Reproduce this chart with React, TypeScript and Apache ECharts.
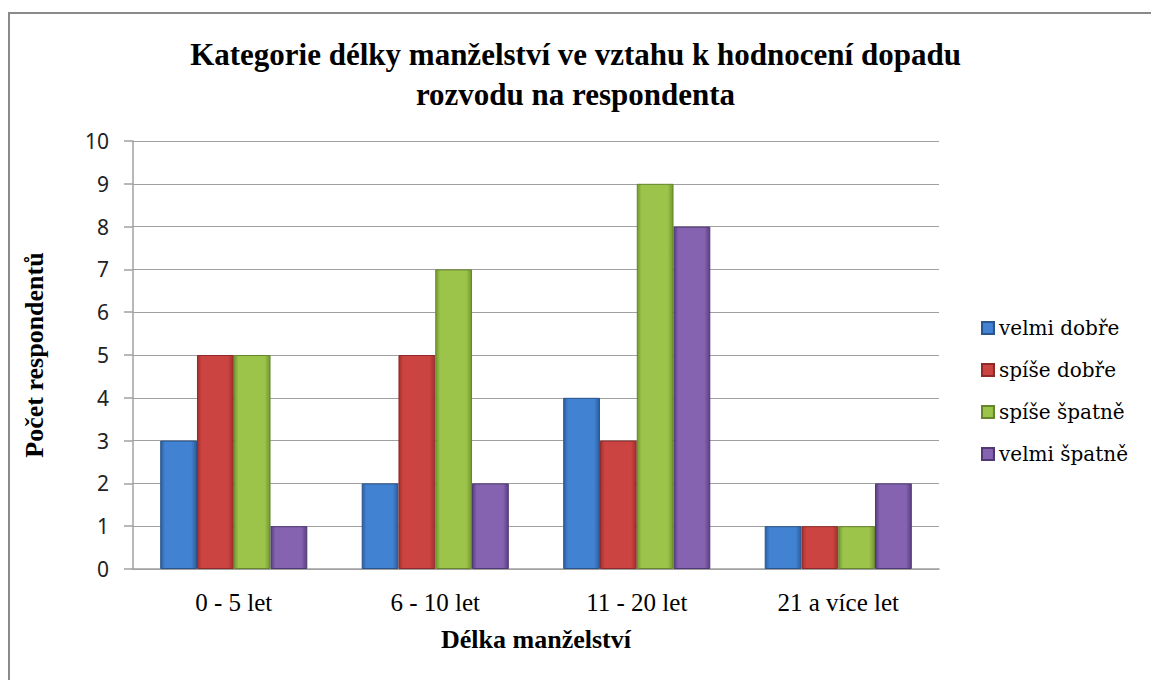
import React, { useEffect, useRef } from "react";
import * as echarts from "echarts";

const categories = ["0 - 5 let", "6 - 10 let", "11 - 20 let", "21 a více let"];
const seriesNames = ["velmi dobře", "spíše dobře", "spíše špatně", "velmi špatně"];
const velmiDobre = [3, 2, 4, 1];
const spiseDobre = [5, 5, 3, 1];
const spiseSpatne = [5, 7, 9, 1];
const velmiSpatne = [1, 2, 8, 2];
const yTicks = [0, 1, 2, 3, 4, 5, 6, 7, 8, 9, 10];

const SERIF = "Liberation Serif";

const palettes = [
  { edge: "#2c5f9f", mid: "#4282d2", border: "#2a558c" },
  { edge: "#a22f2e", mid: "#cc4441", border: "#8e2a29" },
  { edge: "#73982f", mid: "#9cc34a", border: "#66862b" },
  { edge: "#5b3f82", mid: "#8563b0", border: "#4f3873" },
];

function grad(p: { edge: string; mid: string }) {
  return new echarts.graphic.LinearGradient(0, 0, 1, 0, [
    { offset: 0, color: p.edge },
    { offset: 0.12, color: p.mid },
    { offset: 0.85, color: p.mid },
    { offset: 1, color: p.edge },
  ]);
}

export default function App() {
  const ref = useRef<HTMLDivElement>(null);
  useEffect(() => {
    if (!ref.current) return;
    const chart = echarts.init(ref.current, null, { renderer: "svg" });
    const data = [velmiDobre, spiseDobre, spiseSpatne, velmiSpatne];
    const legendText = { fontFamily: "DejaVu Serif", fontSize: 20, color: "#000", fontWeight: "normal" };
    chart.setOption({
      animation: false,
      backgroundColor: "#ffffff",
      textStyle: { fontFamily: SERIF },
      title: {
        text: "Kategorie délky manželství ve vztahu k hodnocení dopadu\nrozvodu na respondenta",
        left: "center",
        top: 29,
        textStyle: {
          fontFamily: SERIF,
          fontWeight: "bold",
          fontSize: 31,
          lineHeight: 40,
          color: "#000",
        },
      },
      graphic: [
        {
          type: "rect",
          shape: { x: 9, y: 13, width: 1200, height: 700 },
          style: { fill: "none", stroke: "#8a8a8a", lineWidth: 2 },
          silent: true,
        },
      ],
      legend: {
        orient: "vertical",
        left: 981,
        top: 318,
        padding: 0,
        itemWidth: 12,
        itemHeight: 12,
        itemGap: 22,
        icon: "rect",
        data: seriesNames.map((name) => ({ name, textStyle: legendText })),
        textStyle: legendText,
      },
      grid: { left: 133, right: 212, top: 141, bottom: 111, containLabel: false },
      xAxis: {
        type: "category",
        data: categories,
        name: "Délka manželství",
        nameLocation: "middle",
        nameGap: 57,
        nameTextStyle: {
          fontFamily: SERIF,
          fontWeight: "bold",
          fontSize: 26,
          color: "#000",
        },
        axisLine: { lineStyle: { color: "#a0a0a0", width: 1.5 } },
        axisTick: { show: false },
        axisLabel: {
          fontFamily: SERIF,
          fontSize: 25,
          color: "#000",
          margin: 21,
        },
      },
      yAxis: {
        type: "value",
        min: 0,
        max: 10,
        interval: 1,
        name: "Počet respondentů",
        nameLocation: "middle",
        nameGap: 86,
        nameTextStyle: {
          fontFamily: SERIF,
          fontWeight: "bold",
          fontSize: 26,
          color: "#000",
        },
        axisLine: { show: true, lineStyle: { color: "#a0a0a0", width: 1.5 } },
        axisTick: { show: true, length: 9, lineStyle: { color: "#a0a0a0", width: 1.5 } },
        splitLine: { lineStyle: { color: "#a0a0a0", width: 1.2 } },
        axisLabel: {
          fontFamily: "Noto Sans",
          fontSize: 21,
          color: "#222",
          margin: 24,
          formatter: (v: number) => (yTicks.includes(v) ? String(v) : ""),
        },
      },
      series: seriesNames.map((name, i) => ({
        name,
        type: "bar",
        data: data[i],
        barGap: "0%",
        barCategoryGap: "27%",
        itemStyle: {
          color: grad(palettes[i]),
          borderColor: palettes[i].border,
          borderWidth: 1,
        },
      })),
      color: palettes.map((p) => p.mid),
    });
    return () => chart.dispose();
  }, []);
  return (
    <div
      ref={ref}
      style={{ position: "absolute", left: 0, top: 0, width: 1151, height: 680 }}
    />
  );
}
